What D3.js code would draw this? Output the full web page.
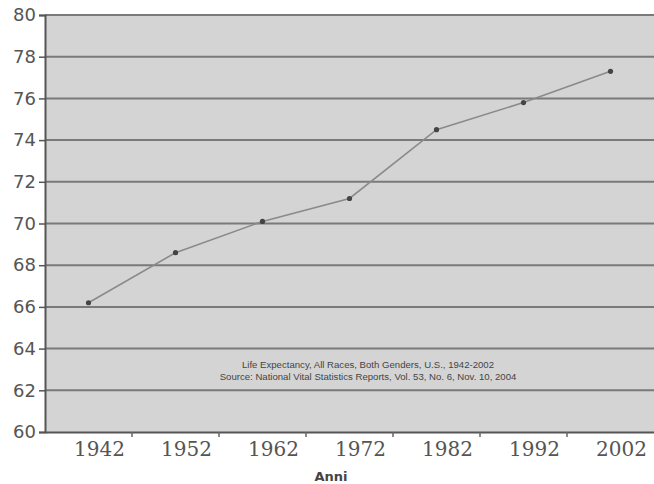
<!DOCTYPE html>
<html>
<head>
<meta charset="utf-8">
<script src="https://cdn.jsdelivr.net/npm/d3@7"></script>
<style>
  body { margin: 0; background: #fff; }
</style>
</head>
<body>
<div id="chart"></div>
<script>
// dati
const anni = ["1942", "1952", "1962", "1972", "1982", "1992", "2002"];
const aspettativa = [66.2, 68.6, 70.1, 71.2, 74.5, 75.8, 77.3];
const yTicks = [60, 62, 64, 66, 68, 70, 72, 74, 76, 78, 80];
const note = [
    "Life Expectancy, All Races, Both Genders, U.S., 1942-2002",
    "Source: National Vital Statistics Reports, Vol. 53, No. 6, Nov. 10, 2004"
];

const width = 654, height = 484;
const margin = { top: 15, right: 0, bottom: 52, left: 45 };

const svg = d3.select("#chart")
    .append("svg")
    .attr("width", width)
    .attr("height", height);

const x = d3.scaleBand()
    .domain(anni)
    .range([margin.left, width - margin.right])
    .padding(0);

const y = d3.scaleLinear()
    .domain([60, 80])
    .range([height - margin.bottom, margin.top]);

// sfondo area grafico
svg.append("rect")
    .attr("x", margin.left)
    .attr("y", margin.top)
    .attr("width", width - margin.left - margin.right)
    .attr("height", y(60) - y(80))
    .style("fill", "#d4d4d4");

// griglia orizzontale
svg.append("g")
    .selectAll("line")
    .data(yTicks.filter(d => d > 60))
    .join("line")
    .attr("x1", margin.left)
    .attr("x2", width - margin.right)
    .attr("y1", d => y(d))
    .attr("y2", d => y(d))
    .style("stroke", "#7a7a7a")
    .style("stroke-width", 2);

// asse Y
const yAxis = svg.append("g")
    .attr("transform", `translate(${margin.left},0)`)
    .call(d3.axisLeft(y).tickValues(yTicks).tickSize(6).tickPadding(3));
yAxis.select(".domain").style("stroke", "#555").style("stroke-width", 2);
yAxis.selectAll(".tick line").style("stroke", "#555").style("stroke-width", 1.5);
yAxis.selectAll("text")
    .style("font-family", "'DejaVu Sans', sans-serif")
    .style("font-size", "18px")
    .style("fill", "#555");

// asse X
const xAxis = svg.append("g")
    .attr("transform", `translate(0,${y(60)})`)
    .call(d3.axisBottom(x).tickSize(0).tickPadding(10));
xAxis.select(".domain").style("stroke", "#555").style("stroke-width", 2);
xAxis.selectAll("text")
    .attr("dx", 11)
    .style("font-family", "'DejaVu Serif', serif")
    .style("font-size", "20px")
    .style("fill", "#555");

// tacche ai confini delle categorie
svg.append("g")
    .selectAll("line")
    .data(anni.slice(1))
    .join("line")
    .attr("x1", d => x(d))
    .attr("x2", d => x(d))
    .attr("y1", y(60))
    .attr("y2", y(60) + 5)
    .style("stroke", "#666")
    .style("stroke-width", 1.5);

// linea
const punti = anni.map((a, i) => ({ anno: a, valore: aspettativa[i] }));

const linea = d3.line()
    .x(d => x(d.anno) + x.bandwidth() / 2)
    .y(d => y(d.valore));

svg.append("path")
    .datum(punti)
    .attr("d", linea)
    .style("fill", "none")
    .style("stroke", "#8a8a8a")
    .style("stroke-width", 1.6);

svg.append("g")
    .selectAll("circle")
    .data(punti)
    .join("circle")
    .attr("cx", d => x(d.anno) + x.bandwidth() / 2)
    .attr("cy", d => y(d.valore))
    .attr("r", 2.6)
    .style("fill", "#444");

// nota
svg.append("g")
    .selectAll("text")
    .data(note)
    .join("text")
    .attr("x", 368)
    .attr("y", (d, i) => 368 + i * 12)
    .attr("text-anchor", "middle")
    .style("font-family", "'Liberation Sans', Arial, sans-serif")
    .style("font-size", "9.6px")
    .style("fill", "#444")
    .text(d => d);

// titolo asse X
svg.append("text")
    .attr("x", 331)
    .attr("y", 481)
    .attr("text-anchor", "middle")
    .style("font-family", "'DejaVu Sans', sans-serif")
    .style("font-size", "13px")
    .style("font-weight", "bold")
    .style("fill", "#444")
    .text("Anni");
</script>
</body>
</html>
